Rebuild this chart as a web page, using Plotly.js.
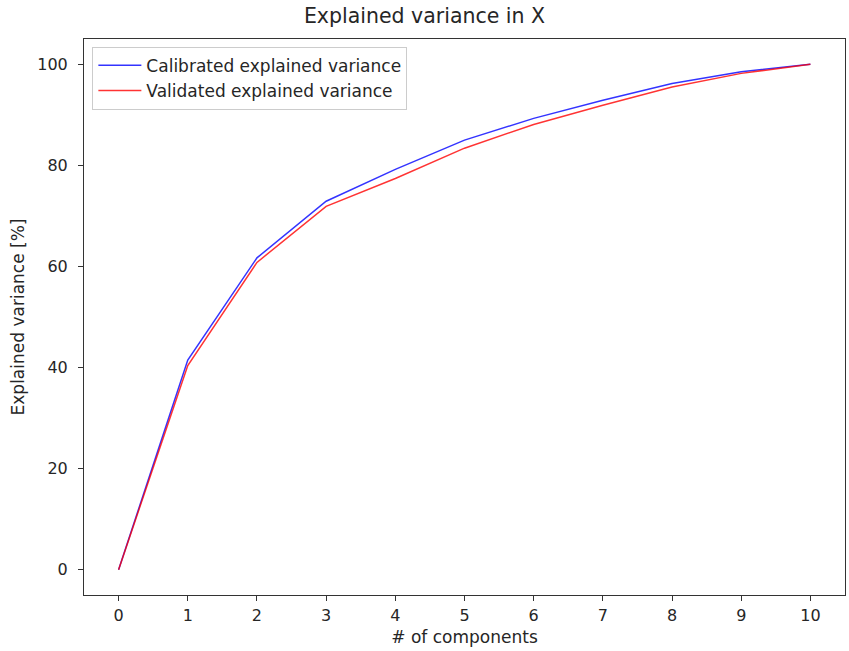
<!DOCTYPE html>
<html>
<head>
<meta charset="utf-8">
<script src="https://cdn.plot.ly/plotly-3.0.1.min.js"></script>
<style>html,body{margin:0;padding:0;background:#fff;}#chart{width:849px;height:651px;}</style>
</head>
<body>
<div id="chart"></div>
<script>
const components = [0,1,2,3,4,5,6,7,8,9,10];
const calibrated = [0, 41.5, 61.7, 72.9, 79.2, 85.0, 89.3, 92.9, 96.2, 98.5, 100];
const validated  = [0, 40.4, 60.8, 71.9, 77.4, 83.4, 88.1, 91.9, 95.5, 98.2, 100];
const seriesNames = ["Calibrated explained variance", "Validated explained variance"];
const tickVals = [0,1,2,3,4,5,6,7,8,9,10];
const yTicks = [0,20,40,60,80,100];

const fam = "DejaVu Sans, sans-serif";
const tickFont = {family: fam, size: 16, color: "#262626"};
const labelFont = {family: fam, size: 17, color: "#262626"};
const traces = [
  {x: components, y: calibrated, name: seriesNames[0], mode: "lines", line: {color: "blue", width: 1.5}, opacity: 0.8},
  {x: components, y: validated, name: seriesNames[1], mode: "lines", line: {color: "red", width: 1.5}, opacity: 0.8}
];
const axisCommon = {showgrid: false, zeroline: false, showline: true, linecolor: "#333", linewidth: 1, mirror: true,
  ticks: "outside", ticklen: 5, tickwidth: 1, tickcolor: "#333", tickfont: tickFont};
const layout = {
  width: 849, height: 651,
  margin: {l: 84, r: 4, t: 39, b: 56},
  paper_bgcolor: "#fff", plot_bgcolor: "#fff",
  font: labelFont,
  title: {text: "Explained variance in X", font: {family: fam, size: 20.5, color: "#262626"}, x: 0.5, xanchor: "center", y: 1 - 9/651, yanchor: "top"},
  xaxis: Object.assign({}, axisCommon, {range: [-0.5, 10.5], tickvals: tickVals, ticktext: tickVals.map(String),
    ticklabelstandoff: 1, title: {text: "# of components", font: labelFont, standoff: 6}}),
  yaxis: Object.assign({}, axisCommon, {range: [-5, 105], tickvals: yTicks, ticktext: yTicks.map(String),
    ticklabelstandoff: 7, title: {text: "Explained variance [%]", font: labelFont, standoff: 8}}),
  showlegend: true,
  legend: {x: 0.011, y: 0.986, xanchor: "left", yanchor: "top", bgcolor: "rgba(255,255,255,0.8)", bordercolor: "#ccc", borderwidth: 1,
    font: {family: fam, size: 17, color: "#262626"}, tracegroupgap: 0, itemwidth: 43}
};
Plotly.newPlot("chart", traces, layout, {displayModeBar: false, staticPlot: true});
</script>
</body>
</html>
